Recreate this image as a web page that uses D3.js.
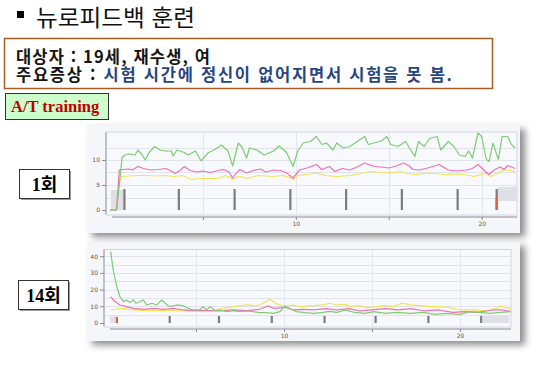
<!DOCTYPE html>
<html lang="ko">
<head>
<meta charset="UTF-8">
<title>뉴로피드백 훈련</title>
<style>
  body { margin: 0; background: #fff; }
  svg { display: block; }
</style>
<script src="https://cdn.jsdelivr.net/npm/d3@7"></script>
</head>
<body>
<script>
// session 1 (1회) : [time, value]
var s1Green = [[0,0],[0.35,0],[0.5,5],[0.65,10.5],[0.8,11],[1.0,11.2],[1.35,11],[1.5,12],[1.7,11.2],[1.9,10],[2.1,11.5],[2.4,12.7],[2.7,12],[3.0,11.8],[3.3,11.8],[3.4,10.8],[3.6,12],[4.0,11.5],[4.2,11],[4.6,11.8],[4.9,9.8],[5.3,11.5],[5.6,12],[6.0,13],[6.35,11.8],[6.6,8.8],[6.9,13.4],[7.1,12.6],[7.35,10.4],[7.5,12.4],[7.9,12],[8.3,11],[8.8,11.8],[9.1,12.8],[9.5,11.5],[9.85,8.7],[10.1,11.8],[10.4,13.4],[10.8,13.7],[11.1,14.7],[11.4,13.1],[11.65,13.4],[12.0,12],[12.2,13.4],[12.55,12.4],[12.9,12.7],[13.3,13.7],[13.7,14.7],[13.9,13.1],[14.2,13.4],[14.6,13.8],[14.9,14.7],[15.1,13.1],[15.5,12.7],[15.9,13.7],[16.0,13.1],[16.4,10.7],[16.6,13.7],[16.9,12.7],[17.2,14.3],[17.6,14.7],[17.8,12],[18.2,13.7],[18.5,12.7],[18.8,11],[19.1,10.7],[19.3,11.8],[19.5,10.4],[19.8,15.4],[20.0,14.7],[20.25,10.1],[20.4,9.7],[20.6,13.4],[20.9,10.1],[21.1,14.7],[21.4,14.7],[21.6,13.1],[21.8,12.4]];
var s1Pink = [[0,0],[0.35,0],[0.5,8],[0.7,8.1],[1.0,8.2],[1.2,8.0],[1.5,8.7],[1.8,8.3],[2.2,8.0],[2.6,8.1],[3.0,8.3],[3.3,7.8],[3.5,7.3],[3.8,8.0],[4.0,8.7],[4.3,7.9],[4.7,7.6],[5.0,7.8],[5.4,7.5],[5.8,7.9],[6.1,8.1],[6.4,7.6],[6.6,6.4],[6.9,7.8],[7.0,8.1],[7.35,7.4],[7.7,7.9],[8.1,8.2],[8.4,7.6],[8.8,8.0],[9.2,7.9],[9.5,7.4],[9.85,6.4],[10.2,8.0],[10.6,8.4],[11.1,9.1],[11.4,8.1],[11.8,8.7],[12.1,7.7],[12.5,8.3],[12.9,8.0],[13.3,8.6],[13.7,9.4],[14.2,8.7],[14.6,8.6],[15.0,8.4],[15.4,8.8],[15.8,9.4],[16.1,8.8],[16.3,8.1],[16.6,8.0],[17.0,8.3],[17.7,9.1],[18.2,8.0],[18.7,7.8],[19.2,8.0],[19.5,8.3],[19.8,9.1],[20.2,7.7],[20.4,7.1],[20.7,8.1],[21.0,8.6],[21.2,8.1],[21.4,8.9],[21.8,8.3]];
var s1Yellow = [[0,0],[0.35,0],[0.5,5.5],[0.65,6.7],[1.0,6.8],[1.5,6.9],[2.0,6.9],[2.5,6.8],[3.0,6.9],[3.4,6.7],[3.9,6.9],[4.4,6.1],[4.8,6.3],[5.3,6.3],[5.8,6.3],[6.2,6.9],[6.4,6.6],[6.6,6.1],[6.9,6.7],[7.0,6.7],[7.35,6.3],[8.0,6.9],[8.8,6.7],[9.3,6.9],[9.6,6.6],[9.85,6.1],[10.1,6.9],[10.6,7.1],[11.1,7.4],[11.6,6.9],[12.2,6.7],[12.9,6.9],[13.5,7.3],[14.0,7.7],[14.5,7.5],[15.1,7.4],[15.6,7.7],[16.0,7.3],[16.4,7.1],[17.2,7.4],[18.0,7.1],[18.7,7.2],[19.2,7.0],[19.6,6.7],[20.2,7.4],[20.5,6.7],[20.9,7.4],[21.2,8.1],[21.8,7.7]];
var s1Events = [0.77, 3.7, 6.7, 9.7, 12.7, 15.7, 18.7, 20.8];
var s1RedEvents = [20.8];
var s1Blocks = [[0.05, 0.77, 0, 4], [20.85, 21.9, 1.8, 4.6]];
var s1YTicks = [0, 5, 10];

// session 14 (14회)
var s14Green = [[0.15,42.7],[0.3,31.7],[0.5,21.7],[0.68,15.7],[0.87,12.8],[1.06,13.8],[1.25,12.2],[1.44,13.8],[1.6,11.8],[2.0,13.8],[2.2,10.8],[2.5,11.8],[2.77,10.8],[3.05,13.8],[3.3,11.4],[3.5,9.8],[3.9,10.8],[4.3,10.2],[4.55,8.8],[4.85,7.8],[5.2,7.8],[5.4,9.8],[5.6,7.8],[5.8,9.8],[6.1,7.4],[6.36,7.8],[6.75,6.8],[7.1,7.4],[7.5,6.8],[7.9,7.2],[8.26,6.8],[8.6,6.2],[9.0,6.2],[9.4,5.8],[9.77,6.8],[10.06,10.2],[10.3,8.8],[10.7,6.8],[11.2,6.2],[11.7,5.8],[12.2,6.4],[12.6,7.0],[13.0,6.4],[13.5,7.8],[14.0,6.4],[14.6,5.8],[15.1,6.8],[15.8,5.8],[16.4,6.4],[17.2,5.8],[17.9,6.4],[18.6,5.2],[19.3,5.8],[20.0,5.2],[20.6,6.8],[21.1,6.4],[21.7,5.8],[22.3,6.4],[22.9,6.8]];
var s14Pink = [[0.15,15.7],[0.4,12.8],[0.68,10.8],[1.06,9.8],[1.44,8.8],[2.0,8.2],[2.6,8.8],[3.1,8.2],[3.7,8.8],[4.3,7.8],[4.85,7.4],[5.6,7.4],[6.36,7.2],[7.1,7.8],[7.9,7.4],[8.6,8.2],[9.1,10.2],[9.4,8.8],[10.06,9.4],[10.5,7.8],[11.1,8.2],[11.7,7.8],[12.4,8.6],[13.0,7.8],[13.7,8.6],[14.3,7.2],[15.0,7.8],[15.8,8.6],[16.5,7.8],[17.2,8.6],[18.0,7.2],[18.8,7.8],[19.6,6.4],[20.3,6.8],[21.0,6.4],[21.5,7.2],[21.9,7.8],[22.4,7.8],[22.9,6.8]];
var s14Yellow = [[0.15,7.8],[0.68,8.8],[1.44,7.8],[2.2,7.4],[3.3,7.4],[4.4,7.2],[5.2,7.4],[5.9,7.2],[6.5,8.8],[7.1,9.8],[7.9,10.8],[8.4,10.2],[8.8,11.8],[9.2,14.2],[9.6,11.4],[10.06,9.8],[10.5,10.8],[10.9,9.8],[11.7,10.4],[12.2,10.8],[12.6,11.8],[13.0,10.8],[13.5,11.2],[13.75,9.8],[14.3,10.4],[14.7,9.2],[15.3,9.8],[15.8,10.4],[16.2,9.8],[16.7,11.8],[17.2,10.8],[17.7,10.4],[18.3,9.8],[18.9,9.8],[19.4,9.2],[20.0,7.8],[20.75,7.8],[21.5,7.2],[21.9,8.4],[22.4,10.4],[22.5,9.2],[22.9,8.8]];
var s14Events = [3.5, 6.3, 9.3, 12.3, 15.2, 18.2, 21.2];
var s14RedEvents = [0.5];
var s14Blocks = [[0.1, 0.57, 0, 4], [21.3, 22.8, 0, 4.2]];
var s14YTicks = [0, 10, 20, 30, 40];

var xLabelTicks = [10, 20];
var xMinorTicks = [5, 15];

var lineColors = {green: "#7fcb72", pink: "#ee70b6", yellow: "#f1e35a"};

var svg = d3.select("body").append("svg")
    .attr("width", 544)
    .attr("height", 369);

var defs = svg.append("defs");
var shadow = defs.append("filter").attr("id", "shadow")
    .attr("x", "-5%").attr("y", "-10%").attr("width", "115%").attr("height", "130%");
shadow.append("feDropShadow")
    .attr("dx", 5).attr("dy", 4).attr("stdDeviation", 3.5)
    .attr("flood-color", "#000").attr("flood-opacity", 0.45);

// title
svg.append("rect").attr("x", 17).attr("y", 11).attr("width", 7).attr("height", 7).attr("fill", "#000");
svg.append("text")
    .attr("x", 36).attr("y", 26)
    .attr("textLength", 159).attr("lengthAdjust", "spacingAndGlyphs")
    .style("font-family", "'Noto Sans CJK KR', sans-serif")
    .style("font-size", "23px")
    .attr("fill", "#111")
    .text("뉴로피드백 훈련");

// info box
svg.append("rect")
    .attr("x", 4.5).attr("y", 38.5).attr("width", 488).attr("height", 50)
    .attr("fill", "#fff").attr("stroke", "#a85c24").attr("stroke-width", 1.5);

var info = svg.append("g")
    .style("font-family", "'Noto Sans CJK KR', sans-serif")
    .style("font-size", "16.5px")
    .style("font-weight", "bold");
info.append("text").attr("x", 16).attr("y", 63).attr("fill", "#151515")
    .attr("textLength", 194).attr("lengthAdjust", "spacing")
    .text("대상자 : 19세, 재수생, 여");
var l2 = info.append("text").attr("x", 16).attr("y", 81)
    .attr("textLength", 436).attr("lengthAdjust", "spacing");
l2.append("tspan").attr("fill", "#151515").text("주요증상 : ");
l2.append("tspan").attr("fill", "#27457f").text("시험 시간에 정신이 없어지면서 시험을 못 봄.");

// A/T training label
svg.append("rect")
    .attr("x", 5.5).attr("y", 93.5).attr("width", 103).attr("height", 26)
    .attr("fill", "#ccffcc").attr("stroke", "#333").attr("stroke-width", 1);
svg.append("text")
    .attr("x", 11).attr("y", 112)
    .style("font-family", "'Liberation Serif', serif")
    .style("font-size", "16.5px").style("font-weight", "bold")
    .attr("fill", "#c00000")
    .text("A/T training");

function sessionLabel(x, y, label) {
    svg.append("rect").attr("x", x + 2).attr("y", y + 2).attr("width", 50).attr("height", 29).attr("fill", "#9a9a9a");
    svg.append("rect").attr("x", x + 0.5).attr("y", y + 0.5).attr("width", 50).attr("height", 29)
        .attr("fill", "#fff").attr("stroke", "#333").attr("stroke-width", 1);
    svg.append("text")
        .attr("x", x + 25.5).attr("y", y + 21.5)
        .attr("text-anchor", "middle")
        .style("font-family", "'Liberation Serif', 'Noto Sans CJK KR', serif")
        .style("font-size", "18px").style("font-weight", "bold")
        .attr("fill", "#000")
        .text(label);
}
sessionLabel(19, 169, "1회");
sessionLabel(18, 280, "14회");

function drawChart(cfg) {
    var g = svg.append("g");

    // screenshot panel
    g.append("rect")
        .attr("x", cfg.panel[0]).attr("y", cfg.panel[1])
        .attr("width", cfg.panel[2]).attr("height", cfg.panel[3])
        .attr("fill", "#f5f6f9")
        .attr("filter", "url(#shadow)");

    var x = d3.scaleLinear().domain(cfg.xDomain).range(cfg.xRange);
    var y = d3.scaleLinear().domain(cfg.yDomain).range(cfg.yRange);

    // plot area
    g.append("rect")
        .attr("x", cfg.xRange[0] - 4).attr("y", cfg.yRange[1])
        .attr("width", cfg.xRange[1] - cfg.xRange[0] + 4)
        .attr("height", cfg.axisY - cfg.yRange[1] - 2)
        .attr("fill", "#f8f9fd").attr("stroke", "#d4d6dc").attr("stroke-width", 1);

    // grid
    g.selectAll(".hgrid").data(cfg.gridY).enter().append("line")
        .attr("x1", cfg.xRange[0] - 4).attr("x2", cfg.xRange[1])
        .attr("y1", d => Math.round(y(d)) + 0.5).attr("y2", d => Math.round(y(d)) + 0.5)
        .attr("stroke", "#e2e4ec").attr("stroke-width", 1);
    g.selectAll(".vgrid").data([5, 10, 15, 20]).enter().append("line")
        .attr("x1", d => Math.round(x(d)) + 0.5).attr("x2", d => Math.round(x(d)) + 0.5)
        .attr("y1", cfg.yRange[1]).attr("y2", cfg.axisY - 2)
        .attr("stroke", "#e4e6ee").attr("stroke-width", 1);

    // event blocks and bars
    g.selectAll(".block").data(cfg.blocks).enter().append("rect")
        .attr("x", d => x(d[0])).attr("width", d => x(d[1]) - x(d[0]))
        .attr("y", d => y(d[3])).attr("height", d => y(d[2]) - y(d[3]))
        .attr("fill", "#dfdfe8");
    g.selectAll(".ev").data(cfg.events).enter().append("rect")
        .attr("x", d => x(d) - 1).attr("width", 2.2)
        .attr("y", y(cfg.eventTop)).attr("height", y(0) - y(cfg.eventTop))
        .attr("fill", "#7c7c7c");
    g.selectAll(".red").data(cfg.redEvents).enter().append("rect")
        .attr("x", d => x(d) - 1).attr("width", 2.2)
        .attr("y", y(cfg.redTop)).attr("height", y(0) - y(cfg.redTop))
        .attr("fill", "#e0604a");

    // lines
    var line = d3.line().x(d => x(d[0])).y(d => y(d[1])).curve(d3.curveLinear);
    cfg.series.forEach(function(s) {
        g.append("path")
            .datum(s.data)
            .attr("d", line)
            .attr("fill", "none")
            .attr("stroke", s.color)
            .attr("stroke-width", 1.2)
            .attr("stroke-linejoin", "round");
    });

    // y axis
    var yAxis = d3.axisLeft(y).tickValues(cfg.yTicks).tickSize(4).tickPadding(2);
    var ya = g.append("g")
        .attr("transform", "translate(" + (cfg.xRange[0] - 4) + ",0)")
        .call(yAxis);
    ya.select(".domain").attr("stroke", "#9a9ca4")
        .attr("d", "M0," + cfg.yRange[1] + "V" + (cfg.axisY - 3));
    ya.selectAll(".tick line").attr("stroke", "#8a8c94");
    ya.selectAll(".tick text").attr("fill", "#555")
        .style("font-family", "'DejaVu Sans', sans-serif").style("font-size", "6px");

    // x axis
    var xAxis = d3.axisBottom(x).tickValues(xLabelTicks.concat(xMinorTicks)).tickSize(3).tickPadding(2)
        .tickFormat(d => xLabelTicks.indexOf(d) >= 0 ? d : "");
    var xa = g.append("g")
        .attr("transform", "translate(0," + cfg.axisY + ")")
        .call(xAxis);
    xa.select(".domain").attr("stroke", "#8a8c94")
        .attr("d", "M" + (cfg.xRange[0] + 2) + ",0H" + cfg.xRange[1]);
    xa.selectAll(".tick line").attr("stroke", "#8a8c94");
    xa.selectAll(".tick text").attr("fill", "#555")
        .style("font-family", "'DejaVu Sans', sans-serif").style("font-size", "6px");
}

drawChart({
    panel: [87, 125, 433, 108],
    xDomain: [0, 21.9], xRange: [110, 517],
    yDomain: [0, 15.6], yRange: [210, 132],
    axisY: 217,
    gridY: [2.5, 5, 7.5, 10, 12.5],
    yTicks: s1YTicks,
    blocks: s1Blocks,
    events: s1Events, eventTop: 4.2,
    redEvents: s1RedEvents, redTop: 2.4,
    series: [
        {data: s1Yellow, color: lineColors.yellow},
        {data: s1Pink, color: lineColors.pink},
        {data: s1Green, color: lineColors.green}
    ]
});

drawChart({
    panel: [87, 242, 433, 99],
    xDomain: [0, 22.9], xRange: [108, 511],
    yDomain: [0, 44], yRange: [323, 249.5],
    axisY: 329,
    gridY: [5, 10, 15, 20, 25, 30, 35, 40],
    yTicks: s14YTicks,
    blocks: s14Blocks,
    events: s14Events, eventTop: 4.2,
    redEvents: s14RedEvents, redTop: 3.5,
    series: [
        {data: s14Yellow, color: lineColors.yellow},
        {data: s14Pink, color: lineColors.pink},
        {data: s14Green, color: lineColors.green}
    ]
});
</script>
</body>
</html>
